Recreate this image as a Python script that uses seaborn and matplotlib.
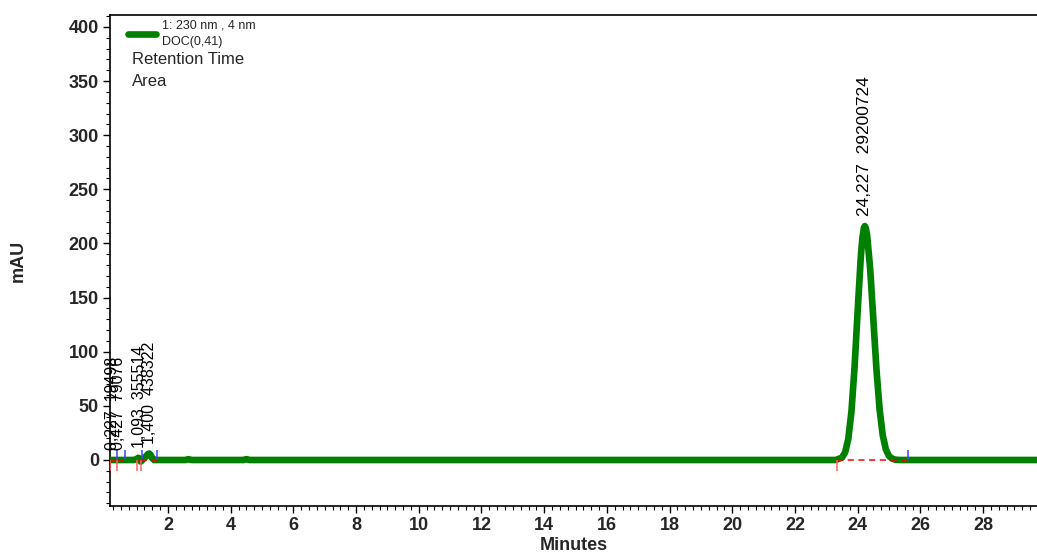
import matplotlib
matplotlib.use('Agg')
import matplotlib.pyplot as plt
from matplotlib.lines import Line2D
from matplotlib.ticker import MultipleLocator
import pandas as pd
import seaborn as sns

# ── Data ────────────────────────────────────────────────────────────────────
time_min = [0.15, 0.5, 0.9, 1.0, 1.05, 1.09, 1.13, 1.2, 1.3, 1.36, 1.4, 1.45,
            1.5, 1.56, 1.7, 2.55, 2.65, 2.75, 4.4, 4.5, 4.6, 23.3, 23.5,
            23.6, 23.7, 23.8, 23.9, 24.0, 24.1, 24.15, 24.2, 24.227, 24.26,
            24.3, 24.4, 24.5, 24.6, 24.7, 24.8, 24.9, 25.0, 25.1, 25.2,
            25.35, 29.72]
absorbance = [0.0, 0.0, 0.0, 0.8, 2.0, 1.5, -1.5, 0.5, 3.5, 5.5, 6.0, 4.5,
              1.5, 0.0, 0.0, 0.0, 0.8, 0.0, 0.0, 0.8, 0.0, 0.0, 2.2,
              7.1, 19.4, 44.4, 85.4, 138.0, 187.8, 205.0, 214.6, 216.0, 214.0,
              208.0, 176.0, 129.6, 83.2, 46.6, 22.7, 9.7, 3.6, 1.2, 0.3,
              0.0, 0.0]

peak_rt = [0.227, 0.427, 1.093, 1.400, 24.227]
peak_rt_text = ['0,227', '0,427', '1,093', '1,400', '24,227']
peak_area = ['19498', '79076', '355514', '438322', '29200724']
peak_height = [0.0, 0.0, 2.0, 6.0, 216.0]
peak_start = [0.15, 0.37, 1.0, 1.13, 23.33]
peak_end = [0.37, 0.63, 1.17, 1.64, 25.6]

x_ticks = list(range(2, 30, 2))
y_ticks = list(range(0, 401, 50))

GREEN = '#008000'

# ── Figure ──────────────────────────────────────────────────────────────────
sns.set_style('ticks')
plt.rcParams['font.family'] = ['Liberation Sans', 'DejaVu Sans']

fig = plt.figure(figsize=(10.37, 5.59), dpi=100)
ax = fig.add_axes([110 / 1037, 1 - 506 / 559, 927 / 1037, 491 / 559])

df = pd.DataFrame({'Minutes': time_min, 'mAU': absorbance})
sns.lineplot(data=df, x='Minutes', y='mAU', ax=ax, color=GREEN,
             linewidth=4.8, solid_capstyle='round', solid_joinstyle='round',
             zorder=3)

# integration baselines and start / end markers
for s, e in zip(peak_start, peak_end):
    ax.plot([s, e], [0, 0], color='red', linestyle=(0, (4, 3)), linewidth=1.1,
            zorder=4)
    ax.vlines(s, -10, 0, color='#ff6060', linewidth=1.1, zorder=4)
    ax.vlines(e, 0, 9, color='#4040ff', linewidth=1.1, zorder=4)

# peak annotations
for rt, rtt, area, h in zip(peak_rt, peak_rt_text, peak_area, peak_height):
    fs = 12.5 if h > 50 else 11.5
    ax.text(rt, h + 9, f'{rtt}  {area}', rotation=90, ha='center',
            va='bottom', fontsize=fs, color='black', zorder=5)

ax.set_xlim(0.15, 29.72)
ax.set_ylim(-42.5, 411)
ax.set_xticks(x_ticks)
ax.set_yticks(y_ticks)
ax.xaxis.set_minor_locator(MultipleLocator(0.25))
ax.yaxis.set_minor_locator(MultipleLocator(10))
ax.tick_params(axis='both', which='major', direction='out', length=5,
               width=1, labelsize=13, pad=3, color='black')
ax.tick_params(axis='both', which='minor', direction='out', length=3,
               width=0.8, color='black')
for lbl in ax.get_xticklabels() + ax.get_yticklabels():
    lbl.set_fontweight('bold')

ax.set_xlabel('Minutes', fontsize=13, fontweight='bold', labelpad=2)
ax.set_ylabel('mAU', fontsize=13, fontweight='bold', labelpad=30)

for side in ['left', 'bottom', 'top']:
    ax.spines[side].set_color('black')
    ax.spines[side].set_linewidth(1.2)
ax.spines['right'].set_visible(False)

# legend block
handle = Line2D([0], [0], color=GREEN, linewidth=4.8, solid_capstyle='round')
leg = ax.legend([handle], ['1: 230 nm , 4 nm\nDOC(0,41)'], loc='upper left',
                bbox_to_anchor=(18 / 927, (506 - 20) / 491), frameon=False,
                fontsize=9, handlelength=2.2, handletextpad=0.5, borderpad=0,
                borderaxespad=0)
leg.get_texts()[0].set_linespacing(1.45)
ax.text(22 / 927, (506 - 60) / 491, 'Retention Time', transform=ax.transAxes,
        fontsize=12, va='center', ha='left')
ax.text(22 / 927, (506 - 82) / 491, 'Area', transform=ax.transAxes,
        fontsize=12, va='center', ha='left')

fig.savefig('out.png', dpi=100)
plt.close()
